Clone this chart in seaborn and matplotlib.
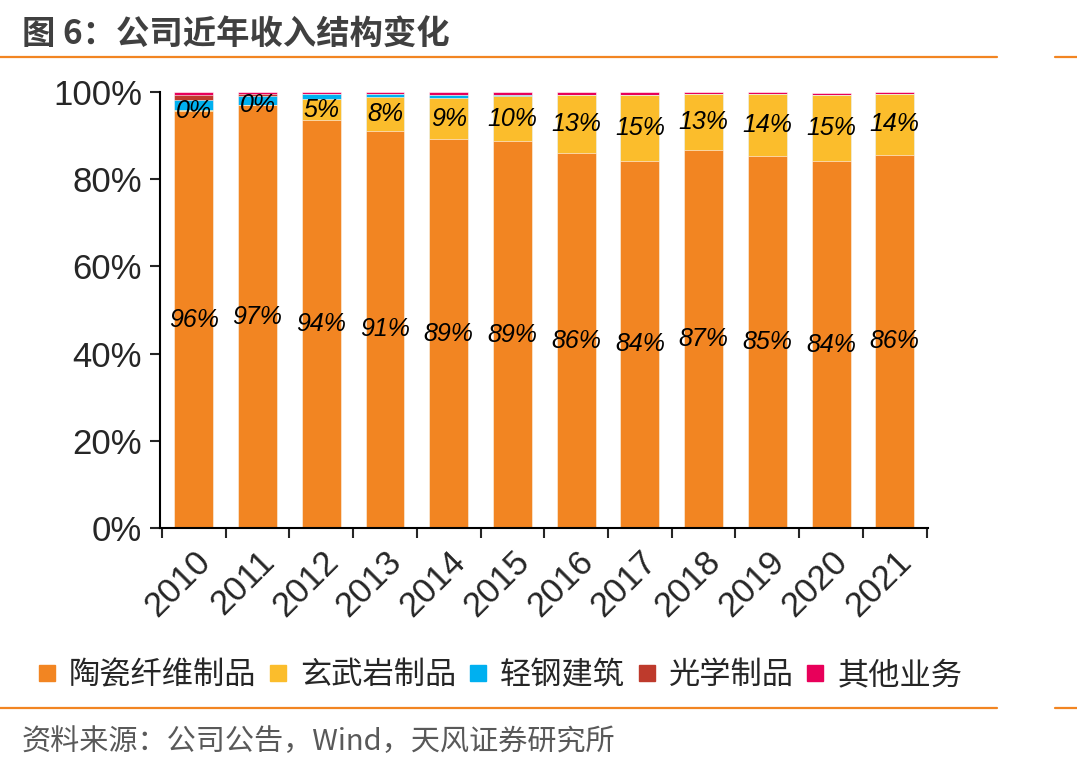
import numpy as np
import pandas as pd
import seaborn as sns
import matplotlib.pyplot as plt
from matplotlib.lines import Line2D

# data (share of revenue, %)
years = ["2010", "2011", "2012", "2013", "2014", "2015",
         "2016", "2017", "2018", "2019", "2020", "2021"]
ceramic = [95.6, 97.0, 93.6, 91.1, 89.2, 88.7, 86.0, 84.2, 86.7, 85.4, 84.1, 85.6]
basalt = [0.2, 0.1, 4.7, 7.8, 9.4, 10.3, 13.2, 15.0, 12.9, 14.2, 15.2, 14.0]
steel = [2.4, 2.0, 1.2, 0.7, 0.8, 0.3, 0.0, 0.0, 0.0, 0.0, 0.0, 0.0]
optical = [1.2, 0.5, 0.0, 0.0, 0.0, 0.0, 0.0, 0.0, 0.0, 0.0, 0.0, 0.0]
other = [0.6, 0.4, 0.5, 0.4, 0.6, 0.7, 0.8, 0.8, 0.4, 0.4, 0.5, 0.4]

names = ["陶瓷纤维制品", "玄武岩制品", "轻钢建筑", "光学制品", "其他业务"]
colors = ["#F28522", "#FBBD2C", "#00B0F0", "#BE3A2C", "#E8005A"]

df = pd.DataFrame({"year": years, names[0]: ceramic, names[1]: basalt,
                   names[2]: steel, names[3]: optical, names[4]: other})
cum = df[names].cumsum(axis=1)

sns.set_style("ticks")
plt.rcParams["font.family"] = ["Liberation Sans", "Noto Sans CJK SC", "DejaVu Sans"]

fig = plt.figure(figsize=(10.77, 7.71), dpi=100)
ax = fig.add_axes([0.1486, 0.3152, 0.713, 0.5655])

# stacked bars: draw cumulative totals from top layer down
for name, c in reversed(list(zip(names, colors))):
    sns.barplot(x=df["year"], y=cum[name], ax=ax, color=c, width=0.61,
                saturation=1, edgecolor="white", linewidth=0.4)

# labels for the two main segments
for i in range(len(years)):
    ax.text(i, ceramic[i] / 2, f"{ceramic[i]:.0f}%", ha="center", va="center",
            fontsize=18, style="italic", color="black")
    ax.text(i, ceramic[i] + basalt[i] / 2, f"{basalt[i]:.0f}%", ha="center", va="center",
            fontsize=18, style="italic", color="black")

ax.set_ylim(0, 100)
ax.set_xlim(-0.53, 11.52)
ax.set_yticks([0, 20, 40, 60, 80, 100])
ax.set_yticklabels([f"{v}%" for v in [0, 20, 40, 60, 80, 100]])
ax.set_xlabel("")
ax.set_ylabel("")
ax.set_xticks(range(len(years)))
ax.set_xticklabels(years, rotation=45, ha="right", rotation_mode="anchor")
ax.set_xticks(np.arange(-0.5, len(years), 1.0), minor=True)
ax.tick_params(axis="x", which="major", length=0, labelsize=25, pad=12)
ax.tick_params(axis="x", which="minor", length=7, width=1.5, direction="out")
ax.tick_params(axis="y", length=7, width=1.5, labelsize=25, pad=6)
for s in ["top", "right"]:
    ax.spines[s].set_visible(False)
for s in ["left", "bottom"]:
    ax.spines[s].set_linewidth(1.5)
    ax.spines[s].set_color("black")

handles = [Line2D([0], [0], marker="s", linestyle="", markersize=11,
                  markerfacecolor=c, markeredgecolor=c) for c in colors]
fig.legend(handles, names, loc="center", bbox_to_anchor=(0.464, 0.124), ncol=5,
           frameon=False, handlelength=0.6, handletextpad=0.4, columnspacing=0.4,
           prop={"family": ["Noto Sans CJK SC"], "size": 22.5})

fig.text(0.02, 0.975, "图 6：公司近年收入结构变化", fontsize=24, fontweight="bold",
         color="#404040", va="top", family=["Noto Sans CJK SC"])
fig.text(0.02, 0.037, "资料来源：公司公告，Wind，天风证券研究所", fontsize=21,
         color="#595959", va="center", family=["Noto Sans CJK SC"])

for yy in [1 - 57 / 771, 1 - 708 / 771]:
    fig.add_artist(Line2D([0, 0.926], [yy, yy], color="#F28522", linewidth=1.6))
    fig.add_artist(Line2D([0.98, 1.0], [yy, yy], color="#F28522", linewidth=1.6))

fig.savefig("out.png", dpi=100)
